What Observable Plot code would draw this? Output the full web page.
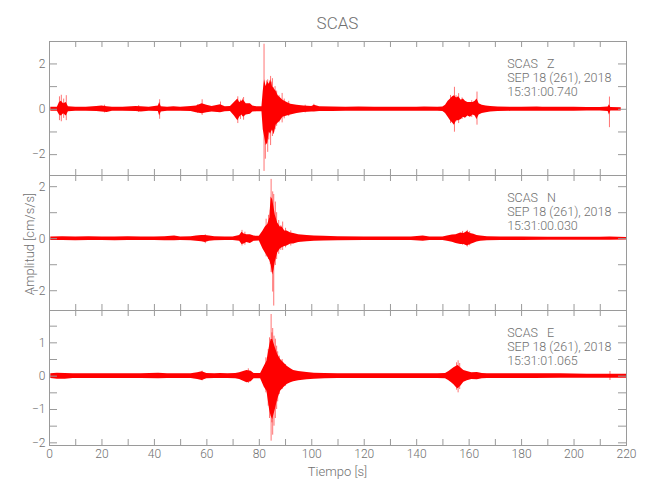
<!DOCTYPE html>
<html><head><meta charset="utf-8">
<script src="https://cdn.jsdelivr.net/npm/d3@7"></script>
<script src="https://cdn.jsdelivr.net/npm/@observablehq/plot@0.6"></script>
<style>
body{margin:0;background:#fff;}
#chart{position:relative;width:650px;height:500px;background:#fff;font-family:Roboto,"Liberation Sans",sans-serif;font-weight:300;color:#707070;}
#chart svg{position:absolute;left:0;overflow:visible;background:transparent;}
.lab{position:absolute;white-space:nowrap;line-height:1;color:#707070;}
#title{left:337.5px;top:15px;font-size:17px;transform:translateX(-50%);}
#xlab{left:337.5px;top:465px;font-size:13px;transform:translateX(-50%);}
#ylab{left:29px;top:244px;font-size:13px;transform:translate(-50%,-50%) rotate(-90deg);}
</style></head><body>
<div id="chart">
 <div class="lab" id="title">SCAS</div>
 <div class="lab" id="xlab">Tiempo [s]</div>
 <div class="lab" id="ylab">Amplitud [cm/s/s]</div>
</div>
<script>
// ---------- axis ticks ----------
const xTickLabels = [0,20,40,60,80,100,120,140,160,180,200,220];
const xMinorTicks = [0,10,20,30,40,50,60,70,80,90,100,110,120,130,140,150,160,170,180,190,200,210,220];

// ---------- Z component ----------
const zInfo = "SCAS   Z\nSEP 18 (261), 2018\n15:31:00.740";
const zDomain = [-2.92, 2.99];
const zTickLabels = [2, 0, -2];
const zMinorTicks = [2, 1, 0, -1, -2];
const zT  = [0.5,3,3.8,4.5,5.4,6.4,7.2,10,14,18,20,22,24,28,33,35,38,41.5,42,42.6,45,47.4,50,54,56,58.2,60,62,65.2,67,69,70.5,71.8,72.5,73.3,74,75,76.6,77.5,79,81,81.5,82,82.6,83.2,83.8,84.3,85,85.7,86.4,87.2,88.1,89,90.6,92,94.4,97,100,101,103,108,113,118,124,130,135,140,143,148,150,151,152,152.9,153.7,154.4,155.2,156,157,157.8,158.6,159.5,160.5,161.5,162.3,163,163.8,165,166.5,168.2,171,176,180,186,188,195,200,205,210,213,213.5,214,218];
const zHi = [0.09,0.09,0.3,0.35,0.25,0.3,0.11,0.09,0.09,0.12,0.15,0.11,0.09,0.09,0.12,0.11,0.09,0.15,0.3,0.11,0.09,0.11,0.09,0.12,0.15,0.25,0.18,0.12,0.2,0.11,0.12,0.3,0.45,0.3,0.35,0.4,0.25,0.25,0.15,0.11,0.11,0.8,1.3,1.0,1.2,1.1,1.3,1.0,0.9,0.8,0.6,0.5,0.4,0.3,0.22,0.18,0.15,0.12,0.18,0.11,0.1,0.09,0.1,0.09,0.09,0.09,0.09,0.1,0.09,0.1,0.18,0.35,0.45,0.55,0.6,0.5,0.55,0.4,0.45,0.35,0.3,0.3,0.3,0.35,0.45,0.25,0.18,0.15,0.12,0.1,0.09,0.09,0.1,0.09,0.09,0.09,0.08,0.08,0.1,0.2,0.08,0.07];
const zLo = [-0.09,-0.09,-0.25,-0.3,-0.2,-0.3,-0.11,-0.09,-0.09,-0.1,-0.12,-0.14,-0.09,-0.09,-0.1,-0.12,-0.09,-0.1,-0.3,-0.12,-0.09,-0.09,-0.09,-0.1,-0.15,-0.2,-0.15,-0.12,-0.15,-0.11,-0.1,-0.3,-0.5,-0.35,-0.25,-0.35,-0.25,-0.22,-0.12,-0.11,-0.11,-0.9,-1.2,-1.6,-1.5,-1.0,-1.1,-0.9,-1.1,-0.7,-0.6,-0.5,-0.35,-0.3,-0.25,-0.18,-0.14,-0.12,-0.12,-0.1,-0.1,-0.09,-0.09,-0.09,-0.09,-0.09,-0.09,-0.09,-0.09,-0.1,-0.18,-0.35,-0.5,-0.6,-0.7,-0.5,-0.5,-0.45,-0.35,-0.4,-0.3,-0.35,-0.25,-0.3,-0.45,-0.25,-0.18,-0.15,-0.12,-0.1,-0.09,-0.09,-0.09,-0.09,-0.09,-0.09,-0.08,-0.08,-0.1,-0.25,-0.08,-0.07];
const zSpikeT  = [3.8,4.5,5.4,6.4,21,34,42,56.5,58.2,65.2,71.8,72.8,73.6,74,81.8,82.3,82.8,83.2,83.6,84.3,84.7,85,85.4,86,86.6,87.5,88.7,89.5,91.2,97.5,100.8,152.9,153.4,154.4,155,156,157.3,161,163,213.5];
const zSpikeHi = [0.55,0.62,0.45,0.6,0.18,0.16,0.42,0.2,0.42,0.32,0.55,0.4,0.45,0.52,2.87,1.0,1.25,1.3,1.0,1.45,1.2,1.35,0.95,1.0,0.8,0.6,0.7,0.45,0.35,0.18,0.22,0.61,0.5,0.97,0.6,0.69,0.5,0.38,0.76,0.54];
const zSpikeLo = [-0.5,-0.55,-0.4,-0.5,-0.16,-0.14,-0.44,-0.18,-0.27,-0.1,-0.63,-0.45,-0.3,-0.48,-2.74,-2.2,-1.45,-1.9,-1.35,-1.6,-0.95,-1.2,-1.1,-0.9,-0.75,-0.6,-0.6,-0.42,-0.32,-0.16,-0.1,-0.63,-0.55,-1.01,-0.55,-0.63,-0.45,-0.36,-0.7,-0.81];

// ---------- N component ----------
const nInfo = "SCAS   N\nSEP 18 (261), 2018\n15:31:00.030";
const nDomain = [-2.76, 2.43];
const nTickLabels = [2, 0, -2];
const nMinorTicks = [2, 1, 0, -1, -2];
const nT  = [0.5,5,10,15,20,25,30,35,40,44,47.7,50,54,56,58,59.4,61,63,67,70,72.5,73.4,74.2,75.2,76.6,78,80,81.4,82.3,83.2,84,84.5,85.1,85.6,86.1,87,88,88.7,89.7,90.6,92,93.1,95,98.2,101,104.6,110,120,130,138,142.5,145,150,151.7,153.6,155,156.8,158,159.3,160.5,161.8,163,164.4,167,172,180,190,200,210,213.7,220];
const nHi = [0.07,0.08,0.07,0.08,0.07,0.07,0.08,0.07,0.07,0.08,0.1,0.07,0.08,0.1,0.12,0.12,0.1,0.08,0.07,0.07,0.12,0.25,0.18,0.15,0.15,0.1,0.09,0.3,0.45,0.55,0.8,1.6,1.5,1.2,0.9,0.6,0.45,0.45,0.3,0.3,0.22,0.2,0.15,0.12,0.1,0.09,0.08,0.07,0.07,0.07,0.1,0.07,0.07,0.1,0.14,0.15,0.22,0.2,0.28,0.2,0.17,0.12,0.1,0.08,0.07,0.07,0.06,0.06,0.06,0.07,0.05];
const nLo = [-0.07,-0.07,-0.08,-0.07,-0.07,-0.08,-0.07,-0.07,-0.07,-0.08,-0.08,-0.07,-0.08,-0.1,-0.12,-0.15,-0.1,-0.08,-0.07,-0.07,-0.1,-0.22,-0.2,-0.15,-0.18,-0.1,-0.09,-0.4,-0.55,-0.7,-0.85,-1.0,-1.4,-1.2,-0.9,-0.55,-0.4,-0.35,-0.3,-0.28,-0.2,-0.2,-0.15,-0.12,-0.1,-0.09,-0.08,-0.07,-0.07,-0.07,-0.1,-0.07,-0.07,-0.1,-0.14,-0.18,-0.22,-0.22,-0.28,-0.22,-0.17,-0.13,-0.1,-0.08,-0.07,-0.07,-0.06,-0.06,-0.06,-0.06,-0.05];
const nSpikeT  = [59.4,73.4,74.5,82.6,83.5,84.2,84.5,85.1,85.5,86.1,86.6,87.4,88.2,88.9,90,92,157.5,159.3,160.2];
const nSpikeHi = [0.15,0.32,0.25,0.75,0.9,1.1,2.28,1.8,1.7,1.41,1.0,0.7,0.5,0.64,0.4,0.3,0.28,0.32,0.27];
const nSpikeLo = [-0.19,-0.28,-0.25,-0.7,-0.8,-1.0,-1.3,-2.05,-2.59,-1.03,-0.8,-0.6,-0.45,-0.45,-0.35,-0.28,-0.25,-0.32,-0.27];

// ---------- E component ----------
const eInfo = "SCAS   E\nSEP 18 (261), 2018\n15:31:01.065";
const eDomain = [-2.08, 1.97];
const eTickLabels = [1, 0, -1, -2];
const eMinorTicks = [1.5, 1, 0.5, 0, -0.5, -1, -1.5, -2];
const eT  = [0.5,3,6,9,15,20,25,30,35,41.6,45,50,54,56.5,58.2,60,63,65.2,68,71,72.5,74,75.3,76.9,78,80.5,81.9,82.9,83.9,84.5,85.1,86.1,87,88.1,89.3,90.6,92,93.1,95,98.2,101,105,110,120,130,140,142.5,148,151,152.3,153.3,154.2,155.2,155.8,156.8,158,159.3,161,163.1,165,167,175,185,195,205,213.7,220];
const eHi = [0.07,0.09,0.08,0.07,0.07,0.07,0.07,0.07,0.07,0.09,0.07,0.07,0.07,0.1,0.13,0.08,0.07,0.08,0.07,0.08,0.1,0.14,0.17,0.15,0.08,0.08,0.3,0.45,0.9,1.1,1.1,0.85,0.65,0.5,0.4,0.3,0.22,0.17,0.14,0.11,0.09,0.08,0.07,0.07,0.07,0.07,0.07,0.07,0.08,0.14,0.2,0.25,0.3,0.32,0.25,0.17,0.14,0.1,0.11,0.08,0.07,0.07,0.07,0.07,0.06,0.06,0.06];
const eLo = [-0.07,-0.09,-0.09,-0.07,-0.07,-0.07,-0.07,-0.07,-0.07,-0.08,-0.07,-0.07,-0.07,-0.1,-0.13,-0.08,-0.07,-0.07,-0.07,-0.08,-0.1,-0.15,-0.2,-0.17,-0.08,-0.08,-0.33,-0.45,-1.0,-1.2,-1.3,-1.0,-0.7,-0.45,-0.35,-0.25,-0.2,-0.17,-0.14,-0.11,-0.09,-0.08,-0.07,-0.07,-0.07,-0.07,-0.07,-0.07,-0.08,-0.14,-0.2,-0.26,-0.35,-0.38,-0.3,-0.18,-0.14,-0.1,-0.11,-0.08,-0.07,-0.07,-0.07,-0.06,-0.06,-0.06,-0.06];
const eSpikeT  = [58.2,75.8,82.5,83.4,83.9,84.5,84.8,85.1,85.6,86.1,86.6,87,87.6,88.7,90,155.2,155.8,156.4,213.7];
const eSpikeHi = [0.15,0.22,0.55,0.8,1.15,1.85,1.3,1.43,1.2,1.11,0.9,0.73,0.6,0.5,0.35,0.4,0.46,0.38,0.14];
const eSpikeLo = [-0.14,-0.22,-0.5,-0.9,-1.27,-1.95,-1.4,-1.77,-1.5,-1.27,-1.0,-0.77,-0.55,-0.4,-0.3,-0.42,-0.5,-0.4,-0.13];

// ---------- drawing ----------
const rows = (t, hi, lo) => t.map((v, i) => ({t: v, hi: hi[i], lo: lo[i]}));
const FRAME = "#9a9a9a";
const FONT = 'Roboto,"Liberation Sans",sans-serif';
const W = 650, ML = 49, MR = 24;

function panel(o) {
  const innerH = o.height - o.mTop - o.mBottom;
  const innerW = W - ML - MR;
  const marks = [
    Plot.areaY(rows(o.t, o.hi, o.lo), {x: "t", y1: "lo", y2: "hi", fill: "#ff0000", curve: "linear"}),
    Plot.ruleX(rows(o.st, o.sh, o.sl), {x: "t", y1: "lo", y2: "hi", stroke: "#ff0000", strokeOpacity: 0.55, strokeWidth: 1}),
    Plot.frame({stroke: FRAME}),
    Plot.tickX(xMinorTicks, {x: d => d, stroke: FRAME, insetTop: innerH - 6}),
    Plot.tickX(xMinorTicks, {x: d => d, stroke: FRAME, insetBottom: innerH - 6}),
    Plot.tickY(o.minor, {y: d => d, stroke: FRAME, insetRight: innerW - 8}),
    Plot.tickY(o.minor, {y: d => d, stroke: FRAME, insetLeft: innerW - 8}),
    Plot.axisY(o.labels, {tickSize: 0, tickPadding: 4, label: null, fontSize: 12}),
    Plot.text([o.info], {x: o.infoX, frameAnchor: "top", text: d => d, textAnchor: "start", lineAnchor: "top", dy: 16, fontSize: 12.5, lineHeight: 1.15, fill: "#707070"})
  ];
  if (o.showX) marks.push(Plot.axisX(xTickLabels, {tickSize: 0, tickPadding: 4, label: null, fontSize: 12}));
  const svg = Plot.plot({
    width: W, height: o.height,
    marginLeft: ML, marginRight: MR, marginTop: o.mTop, marginBottom: o.mBottom,
    x: {domain: [0, 220], axis: null},
    y: {domain: o.domain, axis: null},
    style: {fontFamily: FONT, fontWeight: 300, color: "#707070", background: "transparent", overflow: "visible"},
    marks
  });
  svg.style.top = o.top + "px";
  document.getElementById("chart").appendChild(svg);
}

panel({t: zT, hi: zHi, lo: zLo, st: zSpikeT, sh: zSpikeHi, sl: zSpikeLo, domain: zDomain, labels: zTickLabels, minor: zMinorTicks, info: zInfo, infoX: 174.5, top: 0, height: 175, mTop: 41, mBottom: 0});
panel({t: nT, hi: nHi, lo: nLo, st: nSpikeT, sh: nSpikeHi, sl: nSpikeLo, domain: nDomain, labels: nTickLabels, minor: nMinorTicks, info: nInfo, infoX: 174.5, top: 175, height: 135, mTop: 0, mBottom: 0});
panel({t: eT, hi: eHi, lo: eLo, st: eSpikeT, sh: eSpikeHi, sl: eSpikeLo, domain: eDomain, labels: eTickLabels, minor: eMinorTicks, info: eInfo, infoX: 174.5, top: 310, height: 190, mTop: 0, mBottom: 55, showX: true});
</script>
</body></html>
